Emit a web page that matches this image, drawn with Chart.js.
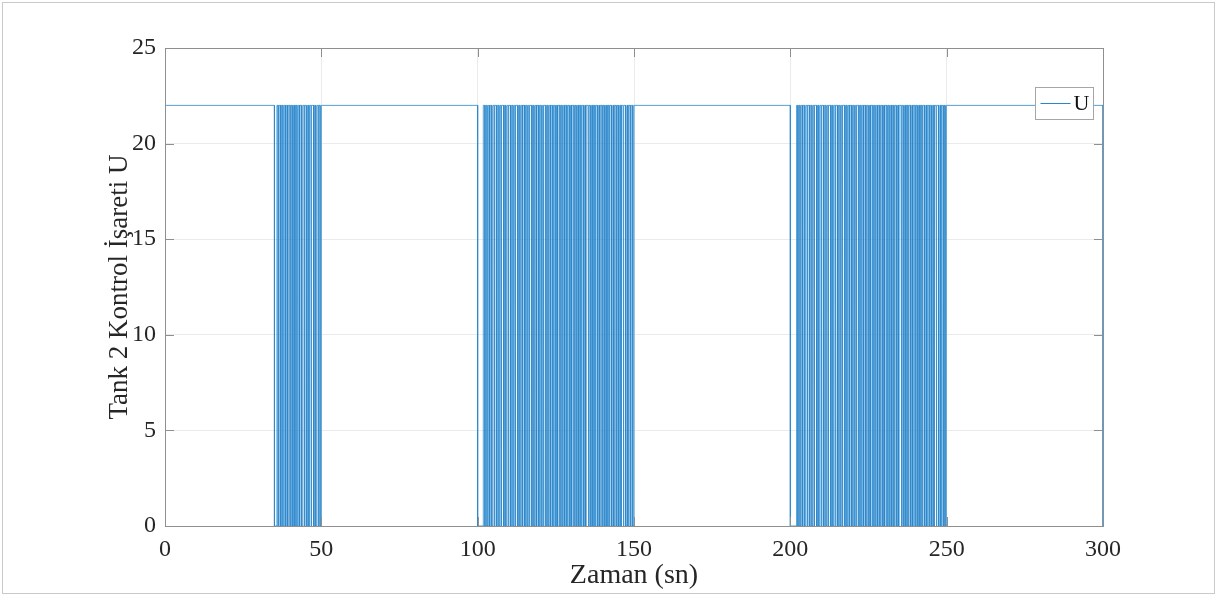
<!DOCTYPE html>
<html>
<head>
<meta charset="utf-8">
<title>Tank 2 Kontrol İşareti U</title>
<script src="https://cdn.jsdelivr.net/npm/chart.js@4/dist/chart.umd.min.js"></script>
<style>
    html, body { margin: 0; padding: 0; background: #fff; }
    #wrap { width: 1217px; height: 597px; position: relative; }
</style>
</head>
<body>
<div id="wrap"><canvas id="chart" width="1217" height="597"></canvas></div>
<script>
// control signal U: high/low levels and the simulation span
const uHigh = 22
const uLow = 0
const tStart = 0
const tEnd = 300

// switching instants (sn) inside each chattering burst, alternating down / up
const burst1 = [
    35.0, 35.8, 36.2, 36.5, 37.0, 37.2, 37.7, 38.1, 38.5, 38.8, 39.2, 39.4, 40.0, 40.3,
    40.7, 41.1, 41.5, 41.7, 42.2, 42.6, 43.0, 43.2, 43.7, 44.1, 44.5, 44.7, 45.2, 45.6,
    46.0, 46.3, 46.7, 46.9, 47.5, 47.8, 48.2, 48.6, 49.0, 49.2, 49.6, 50.0
]
const burst2 = [
    100.0, 101.8, 102.3, 102.6, 103.0, 103.4, 103.8, 104.0, 104.5, 104.9, 105.3, 105.5,
    106.0, 106.3, 106.8, 107.2, 107.5, 107.7, 108.3, 108.6, 109.0, 109.4, 109.8, 110.0,
    110.5, 110.8, 111.3, 111.7, 112.0, 112.2, 112.8, 113.1, 113.5, 113.9, 114.3, 114.5,
    115.0, 115.3, 115.8, 116.2, 116.5, 116.7, 117.3, 117.6, 118.0, 118.4, 118.8, 119.0,
    119.5, 119.8, 120.3, 120.7, 121.0, 121.2, 121.8, 122.1, 122.5, 122.9, 123.3, 123.5,
    124.0, 124.3, 124.8, 125.2, 125.5, 125.7, 126.3, 126.6, 127.0, 127.4, 127.8, 128.0,
    128.5, 128.8, 129.3, 129.7, 130.0, 130.2, 130.8, 131.1, 131.5, 131.9, 132.3, 132.5,
    133.0, 133.3, 133.8, 134.2, 134.5, 134.7, 135.3, 135.6, 136.0, 136.4, 136.8, 137.0,
    137.5, 137.8, 138.3, 138.7, 139.0, 139.2, 139.8, 140.1, 140.5, 140.9, 141.3, 141.5,
    142.0, 142.3, 142.8, 143.2, 143.5, 143.7, 144.3, 144.6, 145.0, 145.4, 145.8, 146.0,
    146.5, 146.8, 147.3, 147.7, 148.0, 148.2, 148.8, 149.1, 149.6, 150.0
]
const burst3 = [
    200.0, 202.0, 202.4, 202.7, 203.1, 203.5, 203.9, 204.1, 204.6, 205.0, 205.4, 205.6,
    206.1, 206.4, 206.9, 207.3, 207.6, 207.8, 208.4, 208.7, 209.1, 209.5, 209.9, 210.1,
    210.6, 210.9, 211.4, 211.8, 212.1, 212.3, 212.9, 213.2, 213.6, 214.0, 214.4, 214.6,
    215.1, 215.4, 215.9, 216.3, 216.6, 216.8, 217.4, 217.7, 218.1, 218.5, 218.9, 219.1,
    219.6, 219.9, 220.4, 220.8, 221.1, 221.3, 221.9, 222.2, 222.6, 223.0, 223.4, 223.6,
    224.1, 224.4, 224.9, 225.3, 225.6, 225.8, 226.4, 226.7, 227.1, 227.5, 227.9, 228.1,
    228.6, 228.9, 229.4, 229.8, 230.1, 230.3, 230.9, 231.2, 231.6, 232.0, 232.4, 232.6,
    233.1, 233.4, 233.9, 234.3, 234.6, 234.8, 235.4, 235.7, 236.1, 236.5, 236.9, 237.1,
    237.6, 237.9, 238.4, 238.8, 239.1, 239.3, 239.9, 240.2, 240.6, 241.0, 241.4, 241.6,
    242.1, 242.4, 242.9, 243.3, 243.6, 243.8, 244.4, 244.7, 245.1, 245.5, 245.9, 246.1,
    246.6, 246.9, 247.4, 247.8, 248.1, 248.3, 248.9, 249.2, 249.5, 249.9
]

// axis ticks
const xTicks = [0, 50, 100, 150, 200, 250, 300]
const yTicks = [0, 5, 10, 15, 20, 25]

const FONT = "'Liberation Serif', 'Times New Roman', serif"
const LINE = '#2a86cc'
const AXIS = '#8f8f8f'

// turn the switching lists into a step signal
function buildSignal() {
    const pts = [{ x: tStart, y: uHigh }]
    for (const burst of [burst1, burst2, burst3]) {
        for (let i = 0; i + 1 < burst.length; i += 2) {
            const down = burst[i], up = burst[i + 1]
            pts.push({ x: down, y: uHigh }, { x: down, y: uLow }, { x: up, y: uLow }, { x: up, y: uHigh })
        }
    }
    pts.push({ x: tEnd, y: uHigh }, { x: tEnd, y: uLow })
    return pts
}

// white page, outer frame, axes box with inward ticks, legend box
const matlabAxes = {
    id: 'matlabAxes',
    beforeDraw(chart) {
        const c = chart.ctx
        c.save()
        c.fillStyle = '#fff'
        c.fillRect(0, 0, chart.width, chart.height)
        c.strokeStyle = '#c9c9c9'
        c.lineWidth = 1
        c.strokeRect(2.5, 2.5, chart.width - 5, chart.height - 6)
        c.restore()
    },
    afterDraw(chart) {
        const c = chart.ctx
        const a = chart.chartArea
        const xs = chart.scales.x, ys = chart.scales.y
        c.save()
        c.strokeStyle = AXIS
        c.lineWidth = 1
        c.strokeRect(Math.round(a.left) + 0.5, Math.round(a.top) + 0.5, Math.round(a.right - a.left), Math.round(a.bottom - a.top))
        const len = 9
        c.beginPath()
        xTicks.forEach(v => {
            const px = Math.round(xs.getPixelForValue(v)) + 0.5
            c.moveTo(px, a.bottom); c.lineTo(px, a.bottom - len)
            c.moveTo(px, a.top); c.lineTo(px, a.top + len)
        })
        yTicks.forEach(v => {
            const py = Math.round(ys.getPixelForValue(v)) + 0.5
            c.moveTo(a.left, py); c.lineTo(a.left + len, py)
            c.moveTo(a.right, py); c.lineTo(a.right - len, py)
        })
        c.stroke()

        // legend in the upper right corner
        const ds = chart.data.datasets[0]
        const bx = 1035.5, by = 87.5, bw = 58, bh = 32
        c.fillStyle = '#fff'
        c.fillRect(bx, by, bw, bh)
        c.strokeStyle = '#a6a6a6'
        c.strokeRect(bx, by, bw, bh)
        c.strokeStyle = ds.borderColor
        c.lineWidth = 1
        c.beginPath()
        c.moveTo(bx + 5, by + bh / 2)
        c.lineTo(bx + 35, by + bh / 2)
        c.stroke()
        c.fillStyle = '#111'
        c.font = '22px ' + FONT
        c.textBaseline = 'middle'
        c.fillText(ds.label, bx + 38, by + bh / 2 + 1)
        c.restore()
    }
}

const ctx = document.getElementById('chart').getContext('2d')
new Chart(ctx, {
    type: 'line',
    data: {
        datasets: [{
            label: 'U',
            data: buildSignal(),
            borderColor: LINE,
            borderWidth: 0.8,
            pointRadius: 0,
            tension: 0,
            fill: false
        }]
    },
    options: {
        responsive: false,
        animation: false,
        events: [],
        layout: { padding: { left: 104, right: 114, top: 48, bottom: 5 } },
        plugins: { legend: { display: false }, tooltip: { enabled: false } },
        scales: {
            x: {
                type: 'linear',
                min: tStart,
                max: tEnd,
                afterFit: s => { s.height = 66 },
                afterBuildTicks: s => { s.ticks = xTicks.map(v => ({ value: v })) },
                grid: { color: '#ebebeb', drawTicks: false, tickLength: 0 },
                border: { display: false },
                ticks: { color: '#262626', padding: 9, maxRotation: 0, font: { family: FONT, size: 24 } },
                title: { display: true, text: 'Zaman (sn)', color: '#262626', padding: 0, font: { family: FONT, size: 28 } }
            },
            y: {
                min: 0,
                max: 25,
                afterFit: s => { s.width = 61 },
                afterBuildTicks: s => { s.ticks = yTicks.map(v => ({ value: v })) },
                grid: { color: '#ebebeb', drawTicks: false, tickLength: 0 },
                border: { display: false },
                ticks: { color: '#262626', padding: 9, font: { family: FONT, size: 24 } },
                title: { display: true, text: 'Tank 2 Kontrol İşareti U', color: '#262626', padding: 0, font: { family: FONT, size: 27 } }
            }
        }
    },
    plugins: [matlabAxes]
})
</script>
</body>
</html>
